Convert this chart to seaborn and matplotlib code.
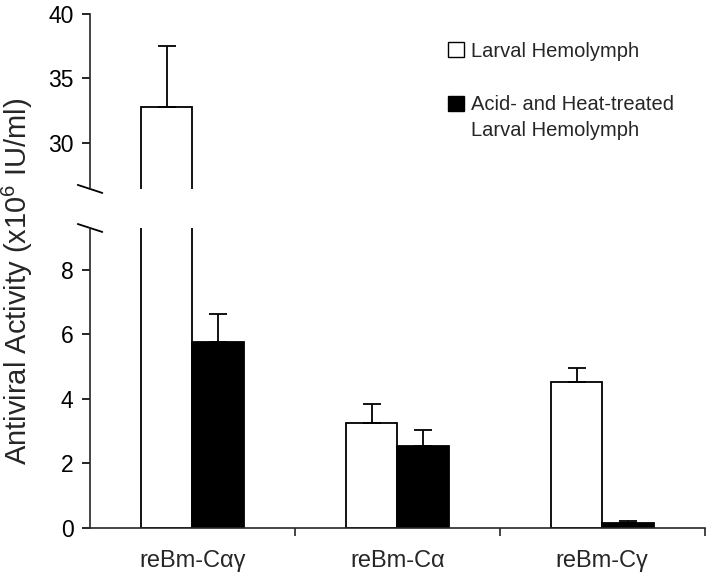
import pandas as pd
import matplotlib.pyplot as plt
import seaborn as sns
from matplotlib.patches import Patch, Rectangle
from matplotlib.legend_handler import HandlerPatch

categories = ['reBm-Cαγ', 'reBm-Cα', 'reBm-Cγ']
groups = ['Larval Hemolymph', 'Acid- and Heat-treated\nLarval Hemolymph']
larval = [32.8, 3.25, 4.53]
larval_err = [4.7, 0.6, 0.42]
treated = [5.75, 2.54, 0.15]
treated_err = [0.88, 0.48, 0.05]

df = pd.DataFrame({
    'sample': categories * 2,
    'group': [groups[0]] * 3 + [groups[1]] * 3,
    'activity': larval + treated,
})
errs = [larval_err, treated_err]

sns.set_style('ticks')
plt.rcParams['font.family'] = ['Liberation Sans', 'DejaVu Sans']
plt.rcParams['mathtext.fontset'] = 'custom'
plt.rcParams['mathtext.rm'] = 'Liberation Sans'
plt.rcParams['mathtext.it'] = 'Liberation Sans'

fig = plt.figure(figsize=(7.09, 5.76), dpi=100)
ax_top = fig.add_axes([0.127, 0.672, 0.867, 0.304])
ax_bot = fig.add_axes([0.127, 0.0842, 0.867, 0.52])

palette = {groups[0]: 'white', groups[1]: 'black'}
for ax in (ax_top, ax_bot):
    sns.barplot(data=df, x='sample', y='activity', hue='group', order=categories,
                hue_order=groups, palette=palette, width=0.5, edgecolor='black',
                linewidth=1.3, errorbar=None, legend=False, ax=ax)
    for cont, err in zip(ax.containers, errs):
        xs = [p.get_x() + p.get_width() / 2 for p in cont]
        hs = [p.get_height() for p in cont]
        ax.errorbar(xs, hs, yerr=[[0] * len(err), err], fmt='none', ecolor='black',
                    elinewidth=1.3, capsize=6.5, capthick=1.3)
    ax.set_xlim(-0.5, 2.5)
    ax.set_xlabel('')
    ax.set_ylabel('')
    for s in ('top', 'right'):
        ax.spines[s].set_visible(False)
    ax.spines['left'].set_linewidth(1.2)
    ax.spines['bottom'].set_linewidth(1.2)
    ax.tick_params(axis='y', length=6, width=1.2, pad=6, labelsize=16.5, colors='black')

ax_top.set_ylim(26.4, 40)
ax_top.set_yticks([30, 35, 40])
ax_top.spines['bottom'].set_visible(False)
ax_top.tick_params(axis='x', which='both', bottom=False, labelbottom=False)

ax_bot.set_ylim(0, 9.3)
ax_bot.set_yticks([0, 2, 4, 6, 8])
ax_bot.set_xticks(range(3))
ax_bot.set_xticklabels(categories)
ax_bot.set_xticks([0.5, 1.5, 2.5], minor=True)
ax_bot.tick_params(axis='x', which='major', length=0, pad=16, labelsize=17)
ax_bot.tick_params(axis='x', which='minor', length=6, width=1.2)

# break marks on the y axis
kw = dict(color='black', lw=1.3, clip_on=False)
ax_top.plot([-0.02, 0.02], [0.023, -0.023], transform=ax_top.transAxes, **kw)
ax_bot.plot([-0.02, 0.02], [1.0133, 0.9867], transform=ax_bot.transAxes, **kw)


def raised_box(legend, orig_handle, xdescent, ydescent, width, height, fontsize):
    # square next to the first line of a two-line label
    return Rectangle((-xdescent, -ydescent + 0.72 * fontsize), width, height)


handles = [Patch(facecolor='white', edgecolor='black', lw=1),
           Patch(facecolor='black', edgecolor='black', lw=1)]
leg = ax_top.legend(handles, groups, loc='upper left', bbox_to_anchor=(0.583, 0.84),
                    frameon=False, fontsize=14.5, handlelength=0.75, handleheight=0.75,
                    handletextpad=0.35, labelspacing=1.7, borderpad=0, borderaxespad=0,
                    handler_map={handles[1]: HandlerPatch(patch_func=raised_box)})
for t in leg.get_texts():
    t.set_linespacing(1.45)

fig.text(0.025, 0.512, r'Antiviral Activity (x10$^{6}$ IU/ml)', rotation=90,
         ha='center', va='center', fontsize=21)

fig.savefig('out.png', dpi=100)
